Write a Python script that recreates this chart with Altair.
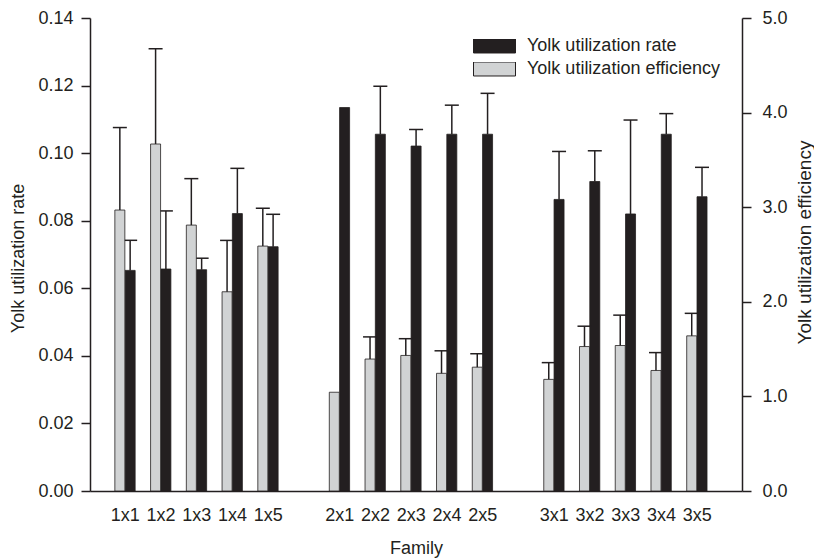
import altair as alt
import pandas as pd

families = ["1x1", "1x2", "1x3", "1x4", "1x5",
            "2x1", "2x2", "2x3", "2x4", "2x5",
            "3x1", "3x2", "3x3", "3x4", "3x5"]
slots = [1, 2, 3, 4, 5, 7, 8, 9, 10, 11, 13, 14, 15, 16, 17]
rate = [0.0653, 0.0657, 0.0655, 0.0821, 0.0723,
        0.1135, 0.1056, 0.1021, 0.1056, 0.1056,
        0.0863, 0.0916, 0.0820, 0.1056, 0.0871]
rate_err = [0.0742, 0.0829, 0.0689, 0.0955, 0.0819,
            None, 0.1198, 0.1070, 0.1142, 0.1177,
            0.1005, 0.1007, 0.1098, 0.1117, 0.0958]
eff = [2.970, 3.668, 2.811, 2.106, 2.589,
       1.044, 1.395, 1.433, 1.244, 1.309,
       1.180, 1.527, 1.538, 1.274, 1.640]
eff_err = [3.842, 4.675, 3.302, 2.649, 2.989,
           None, 1.629, 1.610, 1.482, 1.451,
           1.357, 1.742, 1.859, 1.463, 1.878]
rate_ticks = [0.0, 0.02, 0.04, 0.06, 0.08, 0.10, 0.12, 0.14]
eff_ticks = [0.0, 1.0, 2.0, 3.0, 4.0, 5.0]

RATE_NAME = "Yolk utilization rate"
EFF_NAME = "Yolk utilization efficiency"
BLACK = "#231f20"
GRAY = "#d1d3d4"
FONT = "Liberation Sans"
FS = 18

df = pd.DataFrame({
    "slot": slots, "family": families,
    "rate": rate, "rate_err": rate_err,
    "eff": eff, "eff_err": eff_err,
})
df["rate_series"] = RATE_NAME
df["eff_series"] = EFF_NAME

label_map = ["''"] * 18
for s, f in zip(slots, families):
    label_map[s] = "'" + f + "'"
label_expr = "[" + ",".join(label_map) + "][datum.value]"

x_scale = alt.Scale(domain=[0.165, 18.127], nice=False, zero=False)
x_axis = alt.Axis(values=slots, labelExpr=label_expr, ticks=False, labelPadding=15,
                  title="Family", titlePadding=15, grid=False, labelAngle=0,
                  labelOverlap=False, labelFlush=False, domainColor=BLACK, domainWidth=1.5)
X = alt.X("slot:Q", scale=x_scale, axis=x_axis)

rate_scale = alt.Scale(domain=[0, 0.14], nice=False, zero=True)
eff_scale = alt.Scale(domain=[0, 5], nice=False, zero=True)
rate_axis = alt.Axis(orient="left", values=rate_ticks, format=".2f", title=RATE_NAME,
                     tickSize=9, labelPadding=8, grid=False, domainColor=BLACK, tickColor=BLACK,
                     domainWidth=1.5, tickWidth=1.5,
                     titleX=-72, titleY=240, titleAlign="center", titleBaseline="middle",
                     titleAngle=270)
eff_axis = alt.Axis(orient="right", values=eff_ticks, format=".1f", title=EFF_NAME,
                    tickSize=9, labelPadding=11, grid=False, domainColor=BLACK, tickColor=BLACK,
                    domainWidth=1.5, tickWidth=1.5, titleFontSize=19,
                    titleX=62, titleY=224, titleAlign="center", titleBaseline="middle",
                    titleAngle=270)

color_scale = alt.Scale(domain=[RATE_NAME, EFF_NAME], range=[BLACK, GRAY])
legend = alt.Legend(title=None, orient="none", legendX=383, legendY=21,
                    symbolType="M-1,-0.333H1V0.333H-1Z", symbolSize=1764,
                    symbolStrokeColor=BLACK, symbolStrokeWidth=1, symbolOpacity=1,
                    labelFontSize=FS, labelFont=FONT, labelColor=BLACK, labelLimit=0,
                    labelOffset=11, rowPadding=5, clipHeight=14, padding=0)

base = alt.Chart(df)
GOFF = -5
BOFF = 5.3

eff_bars = base.mark_bar(size=10, xOffset=GOFF, orient="vertical", stroke=BLACK,
                         strokeWidth=0.8).encode(
    x=X,
    y=alt.Y("eff:Q", scale=eff_scale, axis=eff_axis),
    color=alt.Color("eff_series:N", scale=color_scale, legend=legend),
)
eff_rules = base.transform_filter("isValid(datum.eff_err)").mark_rule(
    xOffset=GOFF, strokeWidth=1.5, color=BLACK).encode(
    x=X,
    y=alt.Y("eff:Q", scale=eff_scale, axis=eff_axis),
    y2="eff_err:Q",
)
eff_caps = base.transform_filter("isValid(datum.eff_err)").mark_tick(
    orient="horizontal", size=14, thickness=1.5, xOffset=GOFF, color=BLACK, opacity=1).encode(
    x=X,
    y=alt.Y("eff_err:Q", scale=eff_scale, axis=eff_axis),
)

rate_bars = base.mark_bar(size=10, xOffset=BOFF, orient="vertical", stroke=BLACK,
                          strokeWidth=0.8).encode(
    x=X,
    y=alt.Y("rate:Q", scale=rate_scale, axis=rate_axis),
    color=alt.Color("rate_series:N", scale=color_scale, legend=legend),
)
rate_rules = base.transform_filter("isValid(datum.rate_err)").mark_rule(
    xOffset=BOFF, strokeWidth=1.5, color=BLACK).encode(
    x=X,
    y=alt.Y("rate:Q", scale=rate_scale, axis=rate_axis),
    y2="rate_err:Q",
)
rate_caps = base.transform_filter("isValid(datum.rate_err)").mark_tick(
    orient="horizontal", size=14, thickness=1.5, xOffset=BOFF, color=BLACK, opacity=1).encode(
    x=X,
    y=alt.Y("rate_err:Q", scale=rate_scale, axis=rate_axis),
)

rate_layer = alt.layer(rate_bars, rate_rules, rate_caps)
eff_layer = alt.layer(eff_bars, eff_rules, eff_caps)

chart = alt.layer(rate_layer, eff_layer).resolve_scale(
    y="independent"
).properties(
    width=652, height=473,
    autosize="none",
    padding={"left": 90, "top": 18, "right": 72, "bottom": 68},
).configure_view(stroke=None).configure_axis(
    labelFont=FONT, titleFont=FONT, labelFontSize=FS, titleFontSize=FS,
    titleFontWeight="normal", labelColor=BLACK, titleColor=BLACK,
).configure_legend(labelFont=FONT)

chart.save("out.html", embed_options={"renderer": "svg", "actions": False})
